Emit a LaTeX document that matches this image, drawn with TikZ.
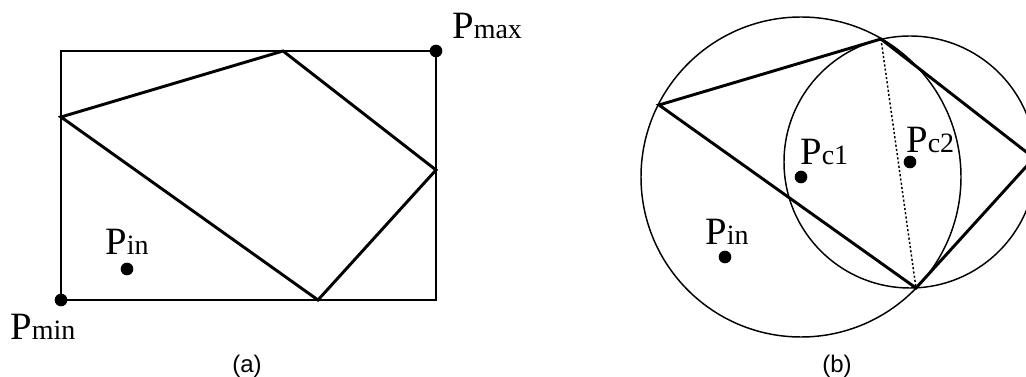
\documentclass[tikz,border=0pt]{standalone}
\usepackage{fontspec}
\setmainfont{Liberation Serif}
\newfontfamily\capfont{Liberation Sans}
\newcommand{\Psub}[1]{P{\fontsize{21}{21}\selectfont #1}}
\tikzset{
  frame/.style={line width=1.2pt},
  poly/.style={line width=2.2pt, line join=miter},
  ring/.style={line width=1.1pt},
  chord/.style={line width=1.1pt, dash pattern=on 1.6pt off 1.6pt},
  pt/.style={circle, fill, inner sep=0pt, minimum size=9.5pt},
  lbl/.style={anchor=base west, inner sep=0pt, font=\fontsize{29}{29}\selectfont},
  subcap/.style={inner sep=0pt, font=\capfont\fontsize{18}{18}\selectfont}
}

\begin{document}
\begin{tikzpicture}[x=0.75pt, y=-0.75pt]
                \path[use as bounding box, clip] (0,0) rectangle (1026,377);

                % (a)
                \node[pt] (pmin) at (61,300) {};
                \node[pt] (pmax) at (436,51) {};
                \node[pt] (pin) at (127,269) {};
                \coordinate (a1) at (61,117);
                \coordinate (a2) at (283,51);
                \coordinate (a3) at (436,170);
                \coordinate (a4) at (318,300);

                \draw[frame] (pmin.center) rectangle (pmax.center);
                \draw[poly] (a1) -- (a2) -- (a3) -- (a4) -- cycle;

                \node[lbl] (lmax) at (452,39) {\Psub{max}};
                \node[lbl] (lmin) at (10,340) {\Psub{min}};
                \node[lbl] (lin) at (105,255) {\Psub{in}};
                \node[subcap] (capa) at (247,366) {(a)};

                % (b)
                \node[pt] (pin2) at (725,257) {};
                \node[pt] (pc1) at (801,177) {};
                \node[pt] (pc2) at (910,162) {};
                \coordinate (b1) at (659,105);
                \coordinate (b2) at (881,39);
                \coordinate (b3) at (1034,158);
                \coordinate (b4) at (916,288);

                \draw[ring] (pc1.center) circle[radius=160];
                \draw[ring] (pc2.center) circle[radius=126];
                \draw[poly] (b1) -- (b2) -- (b3) -- (b4) -- cycle;
                \draw[chord] (b2) -- (b4);

                \node[lbl] (lin2) at (705,245) {\Psub{in}};
                \node[lbl] (lc1) at (800,165) {\Psub{c1}};
                \node[lbl] (lc2) at (906,153) {\Psub{c2}};
                \node[subcap] (capb) at (837,366) {(b)};
            \end{tikzpicture}
\end{document}
